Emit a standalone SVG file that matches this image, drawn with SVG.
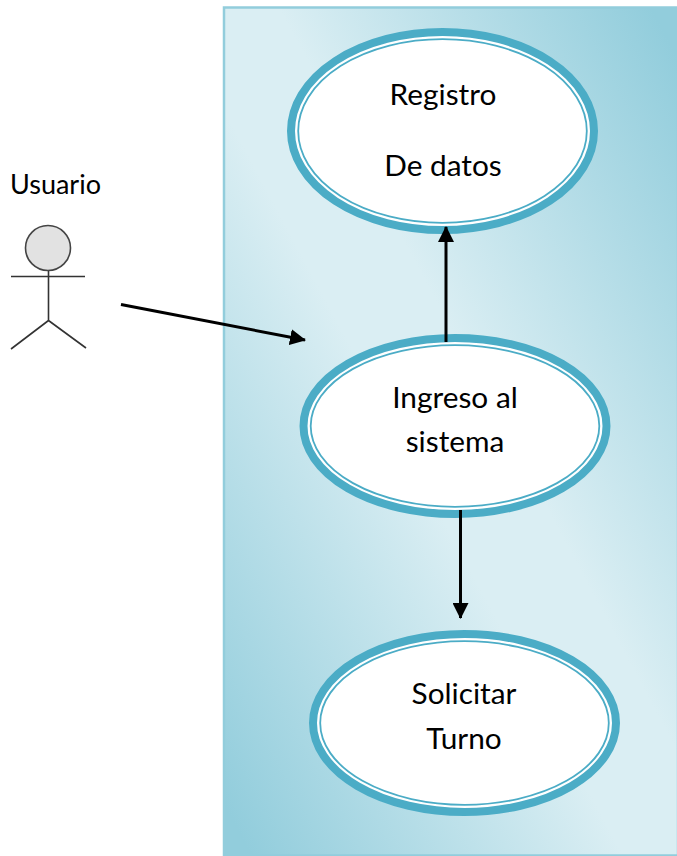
<svg xmlns="http://www.w3.org/2000/svg" width="677" height="856" viewBox="0 0 677 856">
<style>
text{font-family:Lato,"Liberation Sans",sans-serif;font-size:29.800px;fill:#000;text-anchor:middle}
.o{fill:#fff;stroke:#4bacc6;stroke-width:8}
.i{fill:#fff;stroke:#4bacc6;stroke-width:1.800}
.c{stroke:#000;stroke-width:3;fill:none}
.a{stroke:#333;stroke-width:1.600;fill:none}
</style>
<defs>
<linearGradient id="g" x1="1" y1="0" x2="0" y2="1">
<stop offset="0.03" stop-color="#92cddc"/>
<stop offset="0.44" stop-color="#daeef3"/>
<stop offset="0.56" stop-color="#daeef3"/>
<stop offset="0.97" stop-color="#92cddc"/>
</linearGradient>
<marker id="m" markerUnits="userSpaceOnUse" markerWidth="16" markerHeight="16" refX="15" refY="8" orient="auto">
<path d="M0 0L16 8L0 16Z" fill="#000"/>
</marker>
</defs>
<rect id="boundary" x="224" y="7.500" width="454" height="848" fill="url(#g)" stroke="#92cddc" stroke-width="2.500"/>
<g id="actor">
<text x="55.500" y="194" style="font-size:27px">Usuario</text>
<circle cx="48" cy="248" r="22.500" fill="#e2e2e2" stroke="#444" stroke-width="1.600"/>
<path class="a" d="M11 276.500H85M48.500 271V320.500M48.500 320.500L11 349M48.500 320.500L86 348"/>
</g>
<g id="registro">
<ellipse class="o" cx="442.500" cy="131" rx="151.500" ry="99"/>
<ellipse class="i" cx="442.500" cy="131" rx="144.300" ry="91.800"/>
<text x="443" y="105">Registro</text>
<text x="443" y="176">De datos</text>
</g>
<g id="ingreso">
<ellipse class="o" cx="455" cy="426" rx="151.500" ry="88"/>
<ellipse class="i" cx="455" cy="426" rx="144.300" ry="80.800"/>
<text x="455" y="408">Ingreso al</text>
<text x="455" y="452">sistema</text>
</g>
<g id="solicitar">
<ellipse class="o" cx="464.500" cy="723" rx="151.500" ry="89"/>
<ellipse class="i" cx="464.500" cy="723" rx="144.300" ry="81.800"/>
<text x="464" y="704">Solicitar</text>
<text x="464" y="749">Turno</text>
</g>
<g id="connectors">
<path class="c" marker-end="url(#m)" d="M121 304.500L305 340"/>
<path class="c" marker-end="url(#m)" d="M446 342V227"/>
<path class="c" marker-end="url(#m)" d="M460.500 510V618"/>
</g>
</svg>
